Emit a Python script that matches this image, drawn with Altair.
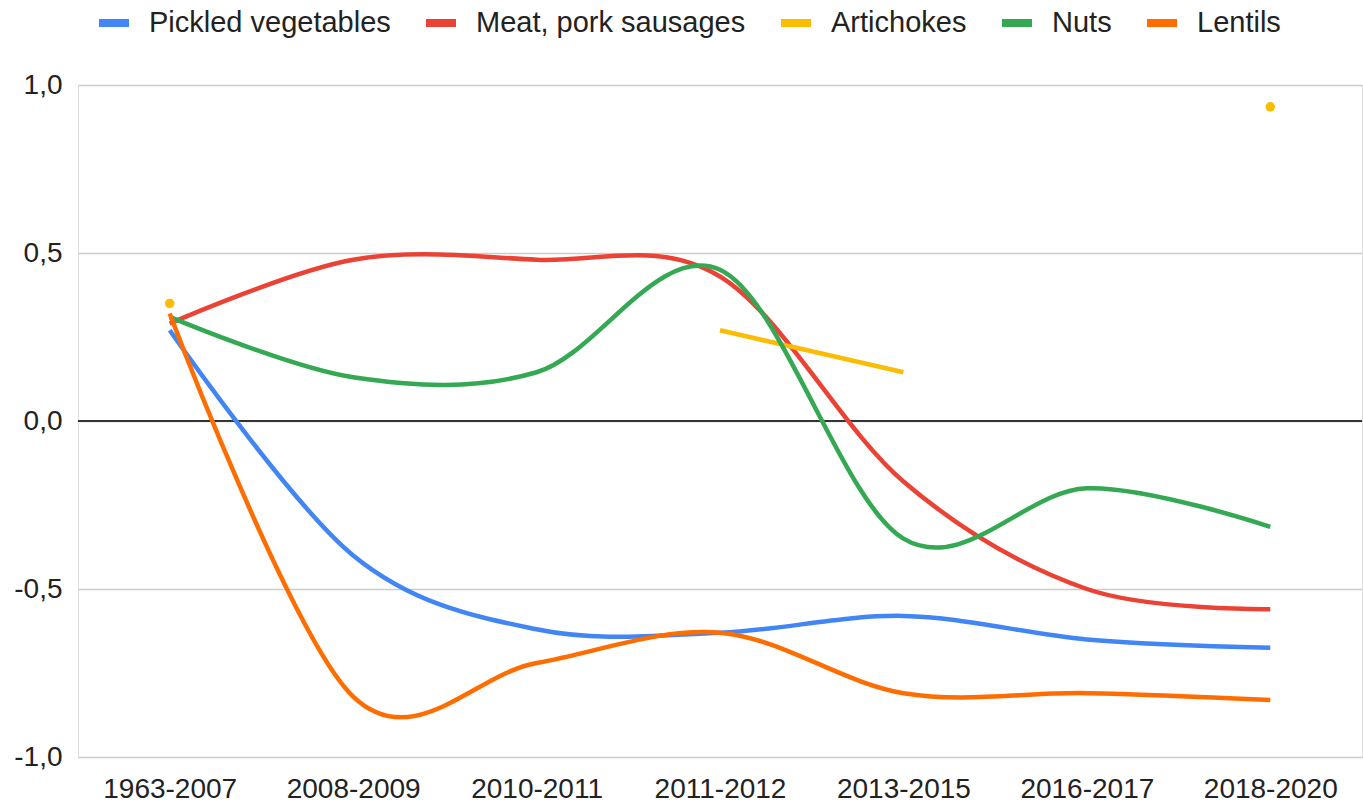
import altair as alt
import pandas as pd

periods = ["1963-2007", "2008-2009", "2010-2011", "2011-2012", "2013-2015", "2016-2017", "2018-2020"]
series = ["Pickled vegetables", "Meat, pork sausages", "Artichokes", "Nuts", "Lentils"]
colors = ["#4285F4", "#EA4335", "#FBBC04", "#34A853", "#FF6D01"]

pickled = [0.27, -0.40, -0.62, -0.63, -0.58, -0.65, -0.675]
meat = [0.29, 0.48, 0.48, 0.43, -0.18, -0.50, -0.56]
artichokes = [0.35, None, None, 0.27, 0.145, None, 0.935]
nuts = [0.31, 0.13, 0.145, 0.45, -0.35, -0.20, -0.315]
lentils = [0.32, -0.82, -0.72, -0.63, -0.81, -0.81, -0.83]

y_ticks = [-1.0, -0.5, 0.0, 0.5, 1.0]

values = [pickled, meat, artichokes, nuts, lentils]

line_rows, point_rows = [], []
for si, (name, vals) in enumerate(zip(series, values)):
    run = 0
    for i, v in enumerate(vals):
        if v is None:
            run += 1
            continue
        prev_ok = i > 0 and vals[i - 1] is not None
        next_ok = i < len(vals) - 1 and vals[i + 1] is not None
        row = {"period": periods[i], "series": name, "value": v,
               "seg": f"{name}-{run}", "order": si}
        if prev_ok or next_ok:
            line_rows.append(row)
        else:
            point_rows.append(row)

lines_df = pd.DataFrame(line_rows)
points_df = pd.DataFrame(point_rows)

FONT = "Liberation Sans"

x_scale = alt.Scale(domain=periods, type="point", padding=0.5)
x_enc = alt.X("period:N", sort=periods, scale=x_scale,
              axis=alt.Axis(title=None, labelAngle=0, ticks=False, tickSize=0, domain=False,
                            grid=False, labelFontSize=28, labelColor="#222222",
                            labelPadding=18, labelFont=FONT))
y_scale = alt.Scale(domain=[-1, 1], nice=False, zero=False)
y_enc = alt.Y("value:Q", scale=y_scale,
              axis=alt.Axis(title=None, values=y_ticks, ticks=False, tickSize=0, domain=False,
                            grid=True, gridColor="#cccccc", gridWidth=1.5,
                            labelFontSize=28, labelColor="#222222", labelPadding=16,
                            labelFont=FONT,
                            labelExpr="(datum.value < 0 ? '-' : '') + replace(format(abs(datum.value), '.1f'), '.', ',')"))

color_scale = alt.Scale(domain=series, range=colors)

lines = alt.Chart(lines_df).mark_line(strokeWidth=4.5, interpolate="cardinal", strokeCap="butt").encode(
    x=x_enc,
    y=y_enc,
    color=alt.Color("series:N", scale=color_scale, sort=series,
                    legend=alt.Legend(title=None, orient="none", direction="horizontal",
                                      legendX=17, legendY=-81, padding=0,
                                      symbolType="M-1,0H1", symbolSize=900,
                                      symbolStrokeWidth=8, labelFontSize=29,
                                      labelFont=FONT, labelColor="#222222",
                                      labelOffset=16, columnPadding=19, labelLimit=0,
                                      symbolOpacity=1)),
    detail="seg:N",
    order=alt.Order("order:Q"),
)

points = alt.Chart(points_df).mark_circle(size=90, opacity=1).encode(
    x=alt.X("period:N", sort=periods, scale=x_scale),
    y=alt.Y("value:Q", scale=y_scale),
    color=alt.Color("series:N", scale=color_scale, legend=None),
)

zero = alt.Chart(pd.DataFrame({"z": [0.0]})).mark_rule(color="#333333", strokeWidth=2).encode(
    y=alt.Y("z:Q", scale=y_scale)
)

chart = alt.layer(zero, lines, points).properties(
    width=1284, height=672,
    autosize=alt.AutoSizeParams(type="none"),
    padding={"left": 78, "top": 85, "right": 1, "bottom": 45},
).configure_view(stroke=None).configure(font=FONT)

chart.save("out.html", embed_options={"renderer": "svg", "actions": False})
